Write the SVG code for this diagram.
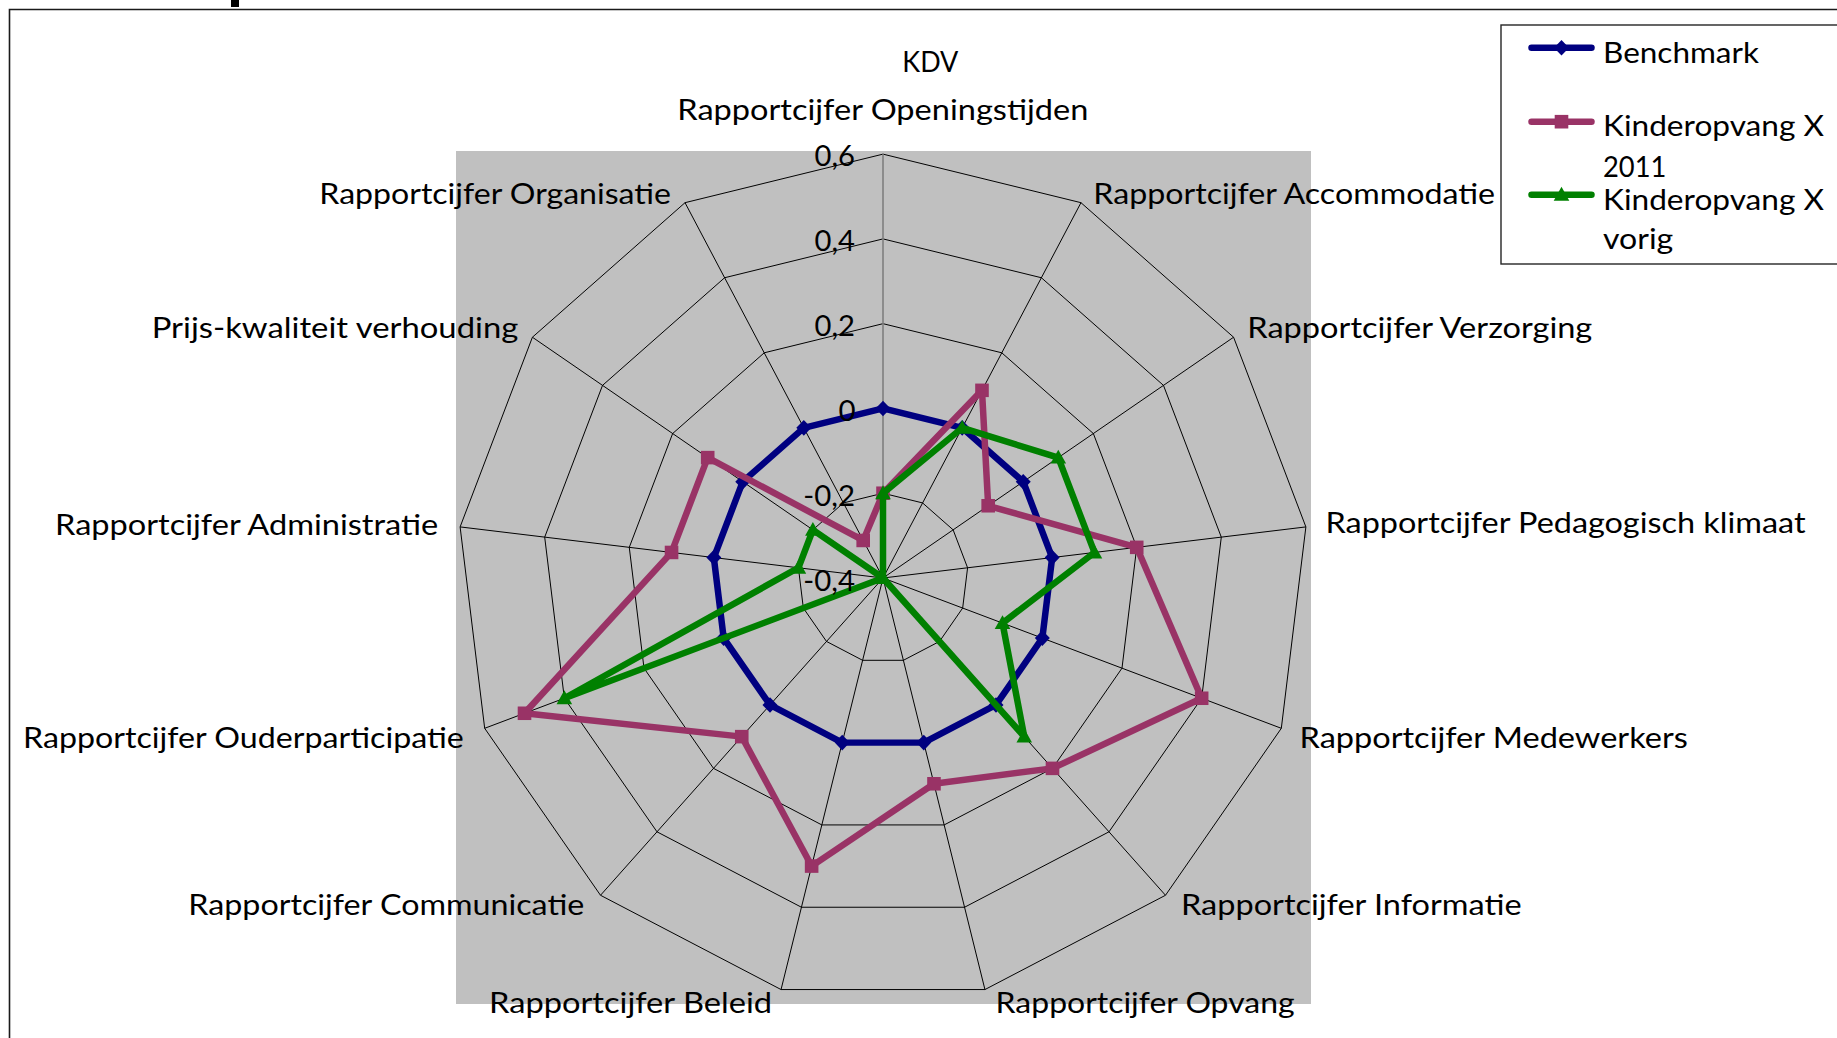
<svg xmlns="http://www.w3.org/2000/svg" width="1837" height="1038" viewBox="0 0 1837 1038">
<style>
.t{font-family:Lato,"Liberation Sans",sans-serif;font-size:29.5px;fill:#000}
.ttl{font-size:29.5px}
.lg{font-size:29.5px}
.grid{fill:none;stroke:#000;stroke-width:1}
.axis{fill:none;stroke:#7f7f7f;stroke-width:1.6}
.sb{fill:none;stroke:#000080;stroke-width:6.5;stroke-linejoin:round;stroke-linecap:round}
.sm{fill:none;stroke:#993366;stroke-width:6.5;stroke-linejoin:round;stroke-linecap:round}
.sg{fill:none;stroke:#008000;stroke-width:6.5;stroke-linejoin:round;stroke-linecap:round}
</style>
<defs>
<polygon id="m-dia" points="0,-7.8 7.5,0 0,7.8 -7.5,0" fill="#000080"/>
<rect id="m-sq" x="-6.8" y="-6.8" width="13.6" height="13.6" fill="#993366"/>
<polygon id="m-tri" points="0,-8 7.8,6 -7.8,6" fill="#008000"/>
</defs>
<rect width="1837" height="1038" fill="#fff"/>
<g id="chart-frame">
<rect x="231" y="0" width="8" height="7" fill="#000"/>
<path d="M9.5,1038V9.5H1837" fill="none" stroke="#1a1a1a" stroke-width="1.6"/>
</g>
<rect id="plot-area" x="456" y="151" width="855" height="853" fill="#c0c0c0"/>
<g id="radar" transform="translate(883,578) scale(1,0.995)">
<g id="gridlines">
<polygon class="grid" points="0,-85.2 39.59,-75.44 70.12,-48.4 84.58,-10.27 79.66,30.21 56.5,63.77 20.39,82.72 -20.39,82.72 -56.5,63.77 -79.66,30.21 -84.58,-10.27 -70.12,-48.4 -39.59,-75.44"/>
<polygon class="grid" points="0,-170.4 79.19,-150.88 140.24,-96.8 169.16,-20.54 159.33,60.42 113,127.55 40.78,165.45 -40.78,165.45 -113,127.55 -159.33,60.42 -169.16,-20.54 -140.24,-96.8 -79.19,-150.88"/>
<polygon class="grid" points="0,-255.6 118.78,-226.33 210.35,-145.19 253.73,-30.81 238.99,90.64 169.49,191.32 61.17,248.17 -61.17,248.17 -169.49,191.32 -238.99,90.64 -253.73,-30.81 -210.35,-145.19 -118.78,-226.33"/>
<polygon class="grid" points="0,-340.8 158.38,-301.77 280.47,-193.59 338.31,-41.08 318.66,120.85 225.99,255.1 81.56,330.9 -81.56,330.9 -225.99,255.1 -318.66,120.85 -338.31,-41.08 -280.47,-193.59 -158.38,-301.77"/>
<polygon class="grid" points="0,-426 197.97,-377.21 350.59,-241.99 422.89,-51.35 398.32,151.06 282.49,318.87 101.95,413.62 -101.95,413.62 -282.49,318.87 -398.32,151.06 -422.89,-51.35 -350.59,-241.99 -197.97,-377.21"/>
<path class="grid" d="M0,0L197.97,-377.21M0,0L350.59,-241.99M0,0L422.89,-51.35M0,0L398.32,151.06M0,0L282.49,318.87M0,0L101.95,413.62M0,0L-101.95,413.62M0,0L-282.49,318.87M0,0L-398.32,151.06M0,0L-422.89,-51.35M0,0L-350.59,-241.99M0,0L-197.97,-377.21"/>
<line class="axis" x1="0" y1="0" x2="0" y2="-426"/>
</g>
<g id="series-benchmark">
<polygon class="sb" points="0,-170.4 79.19,-150.88 140.24,-96.8 169.16,-20.54 159.33,60.42 113,127.55 40.78,165.45 -40.78,165.45 -113,127.55 -159.33,60.42 -169.16,-20.54 -140.24,-96.8 -79.19,-150.88"/>
<use href="#m-dia" x="0" y="-170.4"/><use href="#m-dia" x="79.19" y="-150.88"/><use href="#m-dia" x="140.24" y="-96.8"/><use href="#m-dia" x="169.16" y="-20.54"/><use href="#m-dia" x="159.33" y="60.42"/><use href="#m-dia" x="113" y="127.55"/><use href="#m-dia" x="40.78" y="165.45"/><use href="#m-dia" x="-40.78" y="165.45"/><use href="#m-dia" x="-113" y="127.55"/><use href="#m-dia" x="-159.33" y="60.42"/><use href="#m-dia" x="-169.16" y="-20.54"/><use href="#m-dia" x="-140.24" y="-96.8"/><use href="#m-dia" x="-79.19" y="-150.88"/>
</g>
<g id="series-2011">
<polygon class="sm" points="0,-85.2 98.99,-188.61 105.18,-72.6 253.73,-30.81 318.66,120.85 169.49,191.32 50.98,206.81 -71.37,289.53 -141.25,159.44 -358.49,135.95 -211.45,-25.68 -175.3,-121 -19.8,-37.72"/>
<use href="#m-sq" x="0" y="-85.2"/><use href="#m-sq" x="98.99" y="-188.61"/><use href="#m-sq" x="105.18" y="-72.6"/><use href="#m-sq" x="253.73" y="-30.81"/><use href="#m-sq" x="318.66" y="120.85"/><use href="#m-sq" x="169.49" y="191.32"/><use href="#m-sq" x="50.98" y="206.81"/><use href="#m-sq" x="-71.37" y="289.53"/><use href="#m-sq" x="-141.25" y="159.44"/><use href="#m-sq" x="-358.49" y="135.95"/><use href="#m-sq" x="-211.45" y="-25.68"/><use href="#m-sq" x="-175.3" y="-121"/><use href="#m-sq" x="-19.8" y="-37.72"/>
</g>
<g id="series-vorig">
<polygon class="sg" points="0,-85.2 79.19,-150.88 175.3,-121 211.45,-25.68 119.5,45.32 141.25,159.44 0,0 0,0 0,0 -318.66,120.85 -84.58,-10.27 -70.12,-48.4 0,0"/>
<use href="#m-tri" x="0" y="-85.2"/><use href="#m-tri" x="79.19" y="-150.88"/><use href="#m-tri" x="175.3" y="-121"/><use href="#m-tri" x="211.45" y="-25.68"/><use href="#m-tri" x="119.5" y="45.32"/><use href="#m-tri" x="141.25" y="159.44"/><use href="#m-tri" x="0" y="0"/><use href="#m-tri" x="-318.66" y="120.85"/><use href="#m-tri" x="-84.58" y="-10.27"/><use href="#m-tri" x="-70.12" y="-48.4"/>
</g>
</g>
<g id="axis-labels" class="t" text-anchor="end">
<text x="855" y="165.5" textLength="40.5" lengthAdjust="spacingAndGlyphs">0,6</text>
<text x="855" y="250.5" textLength="40.5" lengthAdjust="spacingAndGlyphs">0,4</text>
<text x="855" y="335.5" textLength="40.5" lengthAdjust="spacingAndGlyphs">0,2</text>
<text x="855.5" y="421">0</text>
<text x="855" y="506" textLength="51.7" lengthAdjust="spacingAndGlyphs">-0,2</text>
<text x="855" y="590.5" textLength="51.7" lengthAdjust="spacingAndGlyphs">-0,4</text>
</g>
<g id="title"><text class="t ttl" x="902.3" y="71.7" textLength="56" lengthAdjust="spacingAndGlyphs">KDV</text></g>
<g id="category-labels" class="t">
<text id="lbl-openingstijden" x="677.3" y="120" textLength="411" lengthAdjust="spacingAndGlyphs">Rapportcijfer Openingstijden</text>
<text id="lbl-accommodatie" x="1093.3" y="204.3" textLength="401.7" lengthAdjust="spacingAndGlyphs">Rapportcijfer Accommodatie</text>
<text id="lbl-verzorging" x="1247.3" y="337.8" textLength="345" lengthAdjust="spacingAndGlyphs">Rapportcijfer Verzorging</text>
<text id="lbl-pedagogisch" x="1325.5" y="533.3" textLength="480" lengthAdjust="spacingAndGlyphs">Rapportcijfer Pedagogisch klimaat</text>
<text id="lbl-medewerkers" x="1299.5" y="748" textLength="388.3" lengthAdjust="spacingAndGlyphs">Rapportcijfer Medewerkers</text>
<text id="lbl-informatie" x="1181" y="915" textLength="340.6" lengthAdjust="spacingAndGlyphs">Rapportcijfer Informatie</text>
<text id="lbl-opvang" x="995.6" y="1013.3" textLength="299" lengthAdjust="spacingAndGlyphs">Rapportcijfer Opvang</text>
<text id="lbl-beleid" x="489" y="1013.3" textLength="283" lengthAdjust="spacingAndGlyphs">Rapportcijfer Beleid</text>
<text id="lbl-communicatie" x="188.3" y="915" textLength="396" lengthAdjust="spacingAndGlyphs">Rapportcijfer Communicatie</text>
<text id="lbl-ouderparticipatie" x="23" y="748.3" textLength="440.8" lengthAdjust="spacingAndGlyphs">Rapportcijfer Ouderparticipatie</text>
<text id="lbl-administratie" x="55" y="535" textLength="383.3" lengthAdjust="spacingAndGlyphs">Rapportcijfer Administratie</text>
<text id="lbl-prijs" x="151.7" y="338.3" textLength="366.6" lengthAdjust="spacingAndGlyphs">Prijs-kwaliteit verhouding</text>
<text id="lbl-organisatie" x="319.3" y="204.3" textLength="351.7" lengthAdjust="spacingAndGlyphs">Rapportcijfer Organisatie</text>
</g>
<g id="legend">
<rect x="1501" y="25" width="400" height="239" fill="#fff" stroke="#262626" stroke-width="1.4"/>
<g id="legend-benchmark">
<line class="sb" x1="1531.5" y1="47.7" x2="1591.5" y2="47.7"/>
<use href="#m-dia" x="1561.5" y="47.7"/>
<text class="t lg" x="1603" y="62.5" textLength="156" lengthAdjust="spacingAndGlyphs">Benchmark</text>
</g>
<g id="legend-2011">
<line class="sm" x1="1531.5" y1="121.7" x2="1591.5" y2="121.7"/>
<use href="#m-sq" x="1561.5" y="121.7"/>
<text class="t lg" x="1603" y="136" textLength="221" lengthAdjust="spacingAndGlyphs">Kinderopvang X</text>
<text class="t lg" x="1603" y="176.7" textLength="63.4" lengthAdjust="spacingAndGlyphs">2011</text>
</g>
<g id="legend-vorig">
<line class="sg" x1="1531.5" y1="194.7" x2="1591.5" y2="194.7"/>
<use href="#m-tri" x="1561.5" y="194.7"/>
<text class="t lg" x="1603" y="209.5" textLength="221" lengthAdjust="spacingAndGlyphs">Kinderopvang X</text>
<text class="t lg" x="1603" y="249" textLength="70.3" lengthAdjust="spacingAndGlyphs">vorig</text>
</g>
</g>
</svg>
